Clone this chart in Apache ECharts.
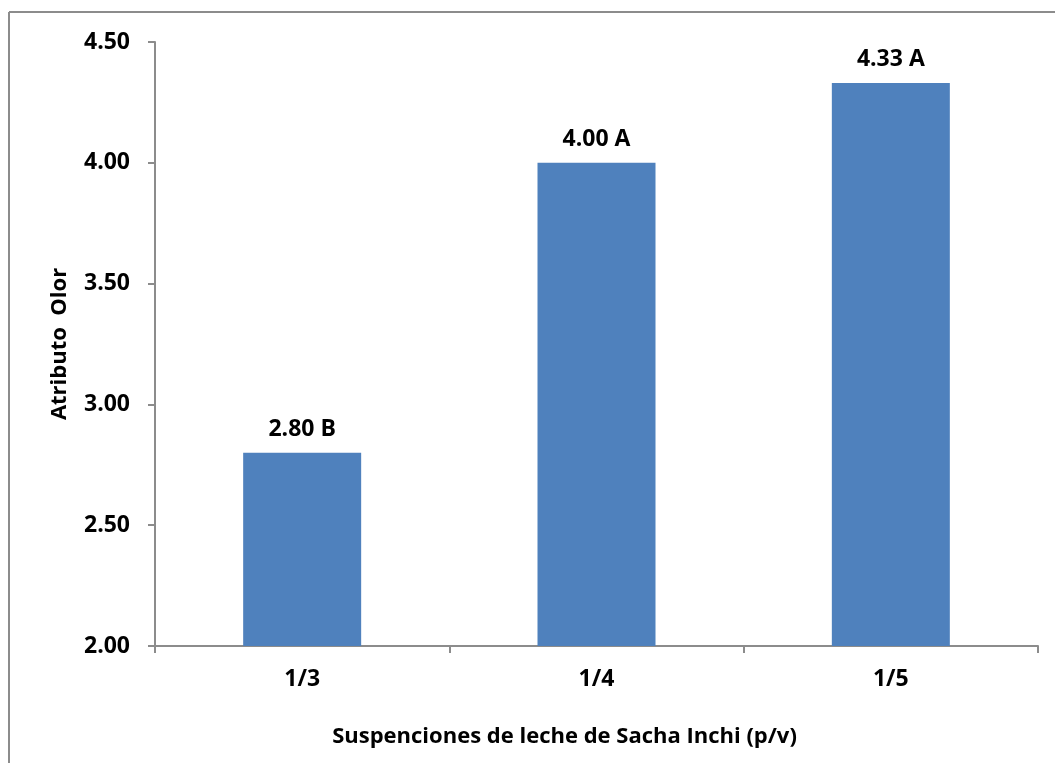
<!DOCTYPE html>
<html>
<head>
<meta charset="utf-8">
<style>
  html, body { margin: 0; padding: 0; background: #fff; }
  #chart { width: 1055px; height: 763px; }
</style>
<script src="https://cdn.jsdelivr.net/npm/echarts@6/dist/echarts.min.js"></script>
</head>
<body>
<div id="chart"></div>
<script>
// Olor scores for each Sacha Inchi milk suspension ratio
const categories = ['1/3', '1/4', '1/5'];
const olorValues = [2.80, 4.00, 4.33];
const groupLetters = ['B', 'A', 'A'];
const yTicks = { min: 2.0, max: 4.5, step: 0.5 };

const FONT = '"Open Sans", "Liberation Sans", sans-serif';
const AXIS_GRAY = '#8c8c8c';

const chart = echarts.init(document.getElementById('chart'), null, { renderer: 'canvas' });

chart.setOption({
  animation: false,
  backgroundColor: '#ffffff',
  grid: { left: 155, right: 17, top: 42, bottom: 117, containLabel: false },
  graphic: [
    { type: 'line', shape: { x1: 9, y1: 12, x2: 1055, y2: 12 }, style: { stroke: AXIS_GRAY, lineWidth: 2 } },
    { type: 'line', shape: { x1: 9, y1: 12, x2: 9, y2: 763 }, style: { stroke: AXIS_GRAY, lineWidth: 2 } }
  ],
  xAxis: {
    type: 'category',
    data: categories,
    name: 'Suspenciones de leche de Sacha Inchi (p/v)',
    nameLocation: 'middle',
    nameGap: 80,
    nameTextStyle: {
      fontFamily: FONT, fontWeight: 'bold', fontSize: 22, color: '#000',
      padding: [0, 64, 0, 0]
    },
    axisLine: { lineStyle: { color: AXIS_GRAY, width: 2 } },
    axisTick: { show: true, alignWithLabel: false, length: 7, lineStyle: { color: AXIS_GRAY, width: 2 } },
    axisLabel: { margin: 22, fontFamily: FONT, fontWeight: 'bold', fontSize: 23, color: '#000' },
    splitLine: { show: false }
  },
  yAxis: {
    type: 'value',
    min: yTicks.min,
    max: yTicks.max,
    interval: yTicks.step,
    name: 'Atributo  Olor',
    nameLocation: 'middle',
    nameGap: 84,
    nameRotate: 90,
    nameTextStyle: { fontFamily: FONT, fontWeight: 'bold', fontSize: 22, color: '#000' },
    axisLine: { show: true, lineStyle: { color: AXIS_GRAY, width: 2 } },
    axisTick: { show: true, length: 7, lineStyle: { color: AXIS_GRAY, width: 2 } },
    axisLabel: {
      margin: 25,
      fontFamily: FONT, fontWeight: 'bold', fontSize: 23, color: '#000',
      formatter: v => v.toFixed(2)
    },
    splitLine: { show: false }
  },
  series: [{
    type: 'bar',
    data: olorValues,
    barWidth: 118,
    itemStyle: { color: '#4f81bd' },
    label: {
      show: true,
      position: 'top',
      distance: 12,
      fontFamily: FONT, fontWeight: 'bold', fontSize: 23, color: '#000',
      formatter: p => p.value.toFixed(2) + ' ' + groupLetters[p.dataIndex]
    }
  }]
});
</script>
</body>
</html>
